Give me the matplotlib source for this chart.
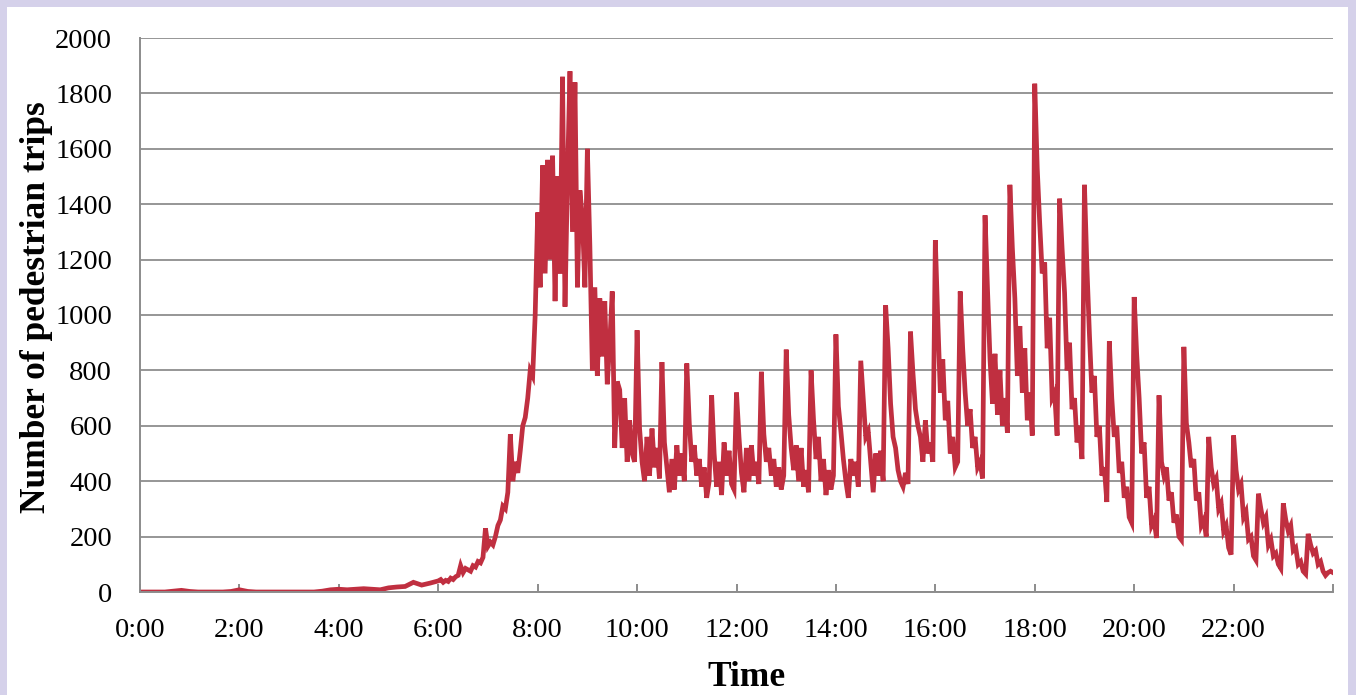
import numpy as np
import matplotlib.pyplot as plt
from matplotlib.patches import Rectangle

# === DATA ===
# 0:00 - 5:50, one value every 10 min
night = [0, 0, 0, 0, 3, 6, 2, 0, 0, 0, 0, 2,
         8, 2, 0, 0, 0, 0, 0, 0, 0, 0, 3, 8,
         10, 8, 10, 12, 10, 8, 15, 18, 20, 35, 25, 32]

# 6:00 - 9:57, one value every 3 min
morning = [40, 45, 35, 42, 38, 50, 45, 55, 60, 95,
           70, 85, 80, 75, 95, 90, 110, 105, 125, 230,
           165, 180, 170, 200, 240, 260, 310, 300, 360, 570,
           400, 470, 430, 510, 600, 630, 700, 800, 780, 1000,
           1370, 1100, 1540, 1150, 1560, 1200, 1575, 1050, 1500, 1150,
           1860, 1030, 1500, 1880, 1300, 1840, 1100, 1450, 1350, 1100,
           1600, 1250, 800, 1100, 780, 1060, 850, 1050, 750, 900,
           1085, 520, 760, 730, 520, 700, 470, 620, 500, 470]

# 10:00 - 15:57, one value every 3 min
midday = [945, 590, 470, 400, 560, 420, 590, 450, 520, 410,
          830, 540, 450, 360, 480, 370, 530, 420, 500, 400,
          825, 610, 470, 530, 420, 480, 380, 450, 340, 400,
          710, 500, 380, 470, 350, 540, 420, 510, 390, 370,
          720, 560, 430, 360, 520, 400, 530, 420, 470, 390,
          795, 570, 470, 520, 420, 480, 380, 450, 370, 420,
          875, 640, 520, 440, 530, 400, 520, 380, 440, 360,
          800, 620, 480, 560, 400, 480, 350, 440, 370, 420,
          930, 670, 580, 480, 400, 340, 480, 420, 470, 380,
          835, 700, 560, 580, 470, 360, 500, 420, 510, 400,
          1035, 880, 680, 560, 520, 440, 400, 380, 430, 390,
          940, 790, 660, 600, 560, 470, 620, 500, 540, 470]

# 16:00 - 24:00, one value every 3 min
evening = [1270, 980, 720, 840, 620, 690, 500, 560, 450, 470,
           1085, 880, 720, 600, 660, 520, 560, 450, 470, 410,
           1360, 1090, 840, 680, 860, 640, 800, 600, 700, 575,
           1470, 1240, 1060, 780, 960, 720, 880, 620, 720, 565,
           1835, 1530, 1330, 1150, 1190, 880, 990, 700, 720, 565,
           1420, 1240, 1080, 800, 900, 660, 700, 540, 600, 480,
           1470, 1170, 930, 720, 780, 560, 600, 420, 450, 325,
           905, 700, 560, 600, 430, 470, 340, 380, 270, 250,
           1065, 860, 700, 500, 540, 340, 380, 240, 260, 195,
           710, 470, 420, 450, 330, 360, 250, 280, 200, 188,
           885, 610, 540, 450, 480, 330, 360, 240, 260, 200,
           560, 450, 390, 410, 300, 320, 220, 240, 160, 135,
           565, 440, 370, 390, 270, 290, 190, 200, 130, 115,
           355, 300, 250, 270, 170, 190, 130, 140, 100, 85,
           320, 260, 220, 240, 150, 160, 100, 110, 75, 65,
           210, 170, 140, 150, 100, 110, 75, 60, 70, 75,
           70]

tick_labels = ['0:00', '2:00', '4:00', '6:00', '8:00', '10:00',
               '12:00', '14:00', '16:00', '18:00', '20:00', '22:00']

# minutes since midnight
minutes = np.concatenate([np.arange(0, 360, 10), np.arange(360, 1441, 3)])
trips = np.array(night + morning + midday + evening)

# === FIGURE ===
plt.rcParams['font.family'] = 'Liberation Serif'
fig = plt.figure(figsize=(13.56, 6.95), dpi=100)
fig.patch.set_facecolor('#d5d1ea')
fig.patches.append(Rectangle((7 / 1356, 0), 1341 / 1356, 688 / 695,
                             transform=fig.transFigure, facecolor='white',
                             edgecolor='none', zorder=-10))

ax = fig.add_axes([140 / 1356, 1 - 592 / 695, 1193 / 1356, 554 / 695])
ax.set_zorder(1)
ax.set_facecolor('none')
ax.plot(minutes, trips, color='#c02f40', lw=3.4, solid_joinstyle='miter')

ax.set_xlim(0, 1440)
ax.set_ylim(0, 2000)
ax.set_yticks(np.arange(0, 2001, 200))
ax.set_xticks(np.arange(0, 1441, 120))
ax.set_xticklabels(tick_labels + [''])
ax.yaxis.grid(True, color='#969696', lw=1.4)
ax.set_axisbelow(True)

for s in ['top', 'right']:
    ax.spines[s].set_visible(False)
for s in ['left', 'bottom']:
    ax.spines[s].set_color('#8c8c8c')
    ax.spines[s].set_linewidth(1.4)

ax.tick_params(axis='x', direction='in', length=6, color='#8c8c8c',
               width=1.4, labelsize=20.5, pad=19)
ax.tick_params(axis='y', length=0, labelsize=20.5, pad=20)

fig.text(37 / 1356, 1 - 307 / 695, 'Number of pedestrian trips', rotation=90,
         ha='center', va='center', fontsize=25.5, fontweight='bold')
fig.text(746 / 1356, 1 / 695, 'Time', ha='center', va='bottom',
         fontsize=25.5, fontweight='bold')

fig.savefig('out.png', dpi=100, facecolor=fig.get_facecolor())
